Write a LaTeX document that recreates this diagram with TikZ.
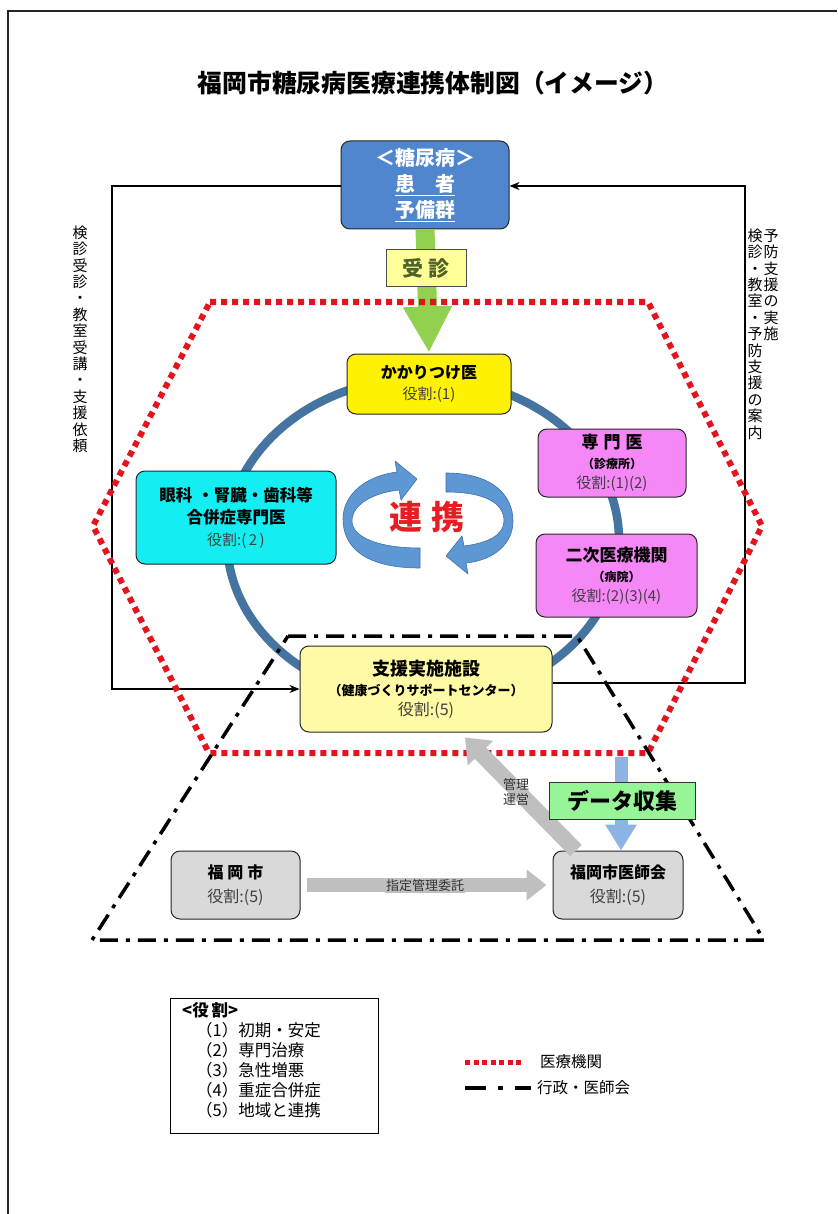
\documentclass[tikz,border=0pt]{standalone}
\usepackage{fontspec}
\setmainfont{Noto Sans CJK JP}
\usetikzlibrary{arrows.meta}
\definecolor{patblue}{RGB}{79,134,206}
\definecolor{ringblue}{RGB}{70,116,160}
\definecolor{hexred}{RGB}{228,20,30}
\definecolor{greenarr}{RGB}{146,208,80}
\definecolor{paleyel}{RGB}{255,255,153}
\definecolor{shienyel}{RGB}{255,250,165}
\definecolor{pinkbox}{RGB}{246,135,246}
\definecolor{cyanbox}{RGB}{20,238,242}
\definecolor{graybox}{RGB}{217,217,217}
\definecolor{greybar}{RGB}{191,191,191}
\definecolor{datablue}{RGB}{142,180,227}
\definecolor{datagreen}{RGB}{150,245,150}
\definecolor{jushingreen}{RGB}{79,98,40}
\definecolor{renred}{RGB}{230,30,35}
\definecolor{cyclblue}{RGB}{94,152,212}
\definecolor{cycledge}{RGB}{62,112,168}
\definecolor{rolec}{RGB}{64,64,64}
\newcommand\myfs[2]{\fontsize{#1}{#2}\selectfont}
\newcommand\topstrut{\rule{0pt}{14pt}}
\begin{document}
\begin{tikzpicture}[x=1pt,y=-1pt,
  box/.style={draw=black!85, line width=1pt, rounded corners=9pt, align=center, inner sep=0pt},
  conn/.style={line width=2.4pt, black},
  reddot/.style={hexred, line width=6pt, dash pattern=on 6pt off 5pt},
  dashdot/.style={black, line width=3.5pt, dash pattern=on 18pt off 8pt on 4pt off 8pt},
  vtext/.style={align=center, inner sep=0pt, font=\myfs{15}{16.4}},
  lab/.style={inner sep=0pt, font=\myfs{13}{16}, text=black!80},
  ribbon/.style={fill=cyclblue, draw=cycledge, line width=0.6pt, line join=round}
]
\useasboundingbox (0,0) rectangle (837,1214);
\fill[white] (0,0) rectangle (837,1214);
% page frame
\draw[line width=2pt, black!85] (8,1214) -- (8,11) -- (837,11);

% title
\node[inner sep=0pt, font=\bfseries\myfs{24.8}{28}] (title) at (433,83) {福岡市糖尿病医療連携体制図（イメージ）};

\node[box, fill=patblue, text=white, minimum width=168pt, minimum height=88pt, font=\bfseries\myfs{20}{26}] (pat) at (425,185) {＜糖尿病＞\\\underline{患　者}\\\underline{予備群}};

% ring
\draw[ringblue, line width=8.5pt] (423,540) ellipse [x radius=196pt, y radius=162pt];

% black connectors
\coordinate (L1) at (112,186);
\coordinate (R1) at (745,186);
\node[box, fill=shienyel, minimum width=252pt, minimum height=86pt, font=\myfs{16}{20}] (shien) at (426,689)
  {\textbf{\myfs{18}{20}支援実施施設}\\\textbf{\myfs{13}{20}（健康づくりサポートセンター）}\\\textcolor{rolec}{役割:(5)}};
\coordinate (SE) at ([yshift=6pt]shien.east);
\draw[conn, -{Stealth[length=10pt,width=8pt]}] (pat.west |- L1) -- (L1) -- (L1 |- shien.west) -- (shien.west);
\draw[conn, -{Stealth[length=10pt,width=8pt]}] (SE) -- (R1 |- SE) -- (R1) -- (pat.east |- R1);

% green arrow
\node[box, fill=yellow, minimum width=164pt, minimum height=60pt, font=\myfs{15}{21}] (kakari) at (429,384)
  {\textbf{\myfs{16}{21}かかりつけ医}\\\textcolor{rolec}{役割:(1)}};
\draw[greenarr, line width=19pt, -{Triangle[width=46pt,length=46pt]}] (pat.south) -- ([yshift=1pt]kakari.north);
\node[draw=black!70, line width=1pt, fill=paleyel, minimum width=80pt, minimum height=37pt, inner sep=0pt,
  font=\bfseries\myfs{21}{24}, text=jushingreen] (jushin) at (426,268.5) {受\hspace{6pt}診};

% red hexagon
\draw[reddot] (210,302) -- (648,302) -- (762,526) -- (648,753) -- (209,753) -- (93,526) -- cycle;

% dash-dot trapezoid
\draw[dashdot] (288,636) -- (577,636) -- (764,940) -- (92,940) -- cycle;

% renkei ribbon arrows
\path[ribbon] (420,568) .. controls (362,568) and (343,545) .. (343,519)
  .. controls (343,495) and (365,476) .. (397,472) -- (395,461) -- (417,479) -- (401,500) -- (399,490)
  .. controls (372,493) and (352,505) .. (352,521) .. controls (352,537) and (378,548) .. (420,548) -- cycle;
\path[ribbon] (446,473) .. controls (492,473) and (513,495) .. (513,521)
  .. controls (513,543) and (495,560) .. (466,563) -- (468,574) -- (446,556) -- (462,536) -- (464,546)
  .. controls (488,543) and (504,535) .. (504,521) .. controls (504,503) and (485,492) .. (446,492) -- cycle;
\node[inner sep=0pt, font=\bfseries\myfs{33}{36}, text=renred] (renkei) at (427,517) {連\hspace{9pt}携};

% other boxes
\node[box, fill=pinkbox, minimum width=148pt, minimum height=68pt, font=\myfs{15}{20}] (senmon) at (612,463)
  {\textbf{\myfs{17}{20}専\hspace{5pt}門\hspace{5pt}医}\\\textbf{\myfs{12}{20}（診療所）}\\\textcolor{rolec}{役割:(1)(2)}};
\node[box, fill=pinkbox, minimum width=161pt, minimum height=83pt, font=\myfs{15}{20}] (niji) at (616.5,575.5)
  {\textbf{\myfs{17}{20}二次医療機関}\\\textbf{\myfs{12}{20}（病院）}\\\textcolor{rolec}{役割:(2)(3)(4)}};
\node[box, fill=cyanbox, minimum width=200pt, minimum height=93pt, font=\myfs{15}{22}] (ganka) at (236,517.5)
  {\textbf{\myfs{16.5}{22}眼科\hspace{5pt}・腎臓・歯科等}\\\textbf{\myfs{16.5}{22}合併症専門医}\\\textcolor{rolec}{役割:(\,2\,)}};

% bottom section
\node[box, fill=graybox, minimum width=129pt, minimum height=68pt, font=\myfs{16}{24}] (fuku) at (235.5,885)
  {\textbf{福\hspace{4pt}岡\hspace{4pt}市}\\\textcolor{rolec}{役割:(5)}};
\node[box, fill=graybox, minimum width=130pt, minimum height=68pt, font=\myfs{16}{24}] (ishi) at (618,885)
  {\textbf{福岡市医師会}\\\textcolor{rolec}{役割:(5)}};
\coordinate (dtop) at (621,757);
\draw[datablue, line width=13pt, -{Triangle[width=30pt,length=26pt]}] (dtop) -- (ishi.north -| dtop);
\draw[greybar, line width=16pt, -{Triangle[width=34pt,length=22pt]}] ([xshift=-42pt]ishi.north) -- ([xshift=39pt,yshift=-5pt]shien.south);
\draw[greybar, line width=14pt, -{Triangle[width=30pt,length=20pt]}] ([xshift=6pt]fuku.east) -- ([xshift=-6pt]ishi.west);
\node[lab, fill=greybar, inner sep=1pt] (itaku) at (425,886) {指定管理委託};
\node[lab, align=center, font=\myfs{13}{15}] (kanri) at (516,792) {管理\\運営};
\node[draw=black!80, line width=1pt, fill=datagreen, minimum width=146pt, minimum height=37pt, inner sep=0pt,
  font=\bfseries\myfs{22}{24}] (data) at (622,801) {データ収集};

% vertical texts
\node[vtext, anchor=north] (vleft) at (80,224) {\topstrut 検\\診\\受\\診\\・\\教\\室\\受\\講\\・\\支\\援\\依\\頼};
\node[vtext, anchor=north] (vr1) at (755,227) {\topstrut 検\\診\\・\\教\\室\\・\\予\\防\\支\\援\\の\\案\\内};
\node[vtext, anchor=north] (vr2) at (771,227) {\topstrut 予\\防\\支\\援\\の\\実\\施};

% legend
\node[draw=black, line width=1pt, minimum width=208pt, minimum height=135pt, inner sep=0pt] (legend) at (274,1065.5) {};
\node[anchor=west, inner sep=0pt, font=\bfseries\myfs{16.5}{18}] (lg0) at (182,1010) {<役\hspace{3pt}割>};
\node[anchor=west, inner sep=0pt, font=\myfs{16.5}{18}] (lg1) at (196,1030) {（1）初期・安定};
\node[anchor=west, inner sep=0pt, font=\myfs{16.5}{18}] (lg2) at (196,1050) {（2）専門治療};
\node[anchor=west, inner sep=0pt, font=\myfs{16.5}{18}] (lg3) at (196,1070) {（3）急性増悪};
\node[anchor=west, inner sep=0pt, font=\myfs{16.5}{18}] (lg4) at (196,1090) {（4）重症合併症};
\node[anchor=west, inner sep=0pt, font=\myfs{16.5}{18}] (lg5) at (196,1110) {（5）地域と連携};
\coordinate (k1a) at (465,1062);
\coordinate (k1b) at (524,1062);
\draw[hexred, line width=5pt, dash pattern=on 5pt off 3.5pt] (k1a) -- (k1b);
\node[anchor=west, inner sep=0pt, font=\myfs{15.5}{18}] (k1) at (540,1062) {医療機関};
\coordinate (k2a) at (465,1088);
\coordinate (k2b) at (531,1088);
\draw[black, line width=4pt, dash pattern=on 21pt off 12pt on 5pt off 12pt] (k2a) -- (k2b);
\node[anchor=west, inner sep=0pt, font=\myfs{15.5}{18}] (k2) at (537,1088) {行政・医師会};
\end{tikzpicture}
\end{document}
